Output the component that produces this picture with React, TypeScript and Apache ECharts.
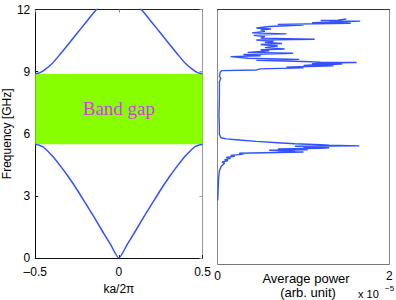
import React, { useEffect, useRef } from "react";
import * as echarts from "echarts";

// Band structure (ka/2π vs frequency in GHz)
const kValues = [-0.5, -0.475, -0.45, -0.4, -0.35, -0.3, -0.25, -0.2, -0.15, -0.1, -0.05, 0, 0.05, 0.1, 0.15, 0.2, 0.25, 0.3, 0.35, 0.4, 0.45, 0.475, 0.5];
const lowerBand = [5.5, 5.45, 5.35, 4.95, 4.45, 3.9, 3.3, 2.65, 2.0, 1.32, 0.66, 0, 0.66, 1.32, 2.0, 2.65, 3.3, 3.9, 4.45, 4.95, 5.35, 5.45, 5.5];
const upperBand = [8.9, 8.94, 9.05, 9.38, 9.85, 10.35, 10.85, 11.35, 11.85, 12.3, 12.6, 12.7, 12.6, 12.3, 11.85, 11.35, 10.85, 10.35, 9.85, 9.38, 9.05, 8.94, 8.9];
const gapBottom = 5.5;
const gapTop = 8.9;

// Average power spectrum (power in units of 1e-5 vs frequency in GHz)
const powerFreq = [3.0, 3.5, 4.0, 4.4, 4.6, 4.75, 4.8, 4.88, 4.92, 4.98, 5.03, 5.08, 5.12, 5.18, 5.22, 5.28, 5.31, 5.33, 5.36, 5.38, 5.41, 5.43, 5.46, 5.48, 5.5, 5.52, 5.55, 5.57, 5.6, 5.62, 5.67, 5.72, 5.78, 5.85, 5.9, 5.95, 6.1, 6.6, 7.0, 7.5, 8.0, 8.6, 8.75, 8.85, 9.05, 9.12, 9.15, 9.2, 9.25, 9.28, 9.3, 9.34, 9.36, 9.38, 9.43, 9.45, 9.47, 9.5, 9.52, 9.55, 9.6, 9.65, 9.7, 9.78, 9.82, 9.88, 9.94, 9.98, 10.05, 10.1, 10.14, 10.2, 10.28, 10.35, 10.4, 10.45, 10.5, 10.56, 10.6, 10.65, 10.72, 10.78, 10.85, 10.9, 10.97, 11.04, 11.08, 11.13, 11.2, 11.27, 11.3, 11.35, 11.38, 11.4, 11.45, 11.48, 11.5, 11.55];
const powerValue = [0, 0.005, 0.01, 0.02, 0.04, 0.08, 0.05, 0.12, 0.08, 0.15, 0.1, 0.2, 0.15, 0.3, 0.25, 1.0, 0.7, 0.9, 0.6, 1.05, 0.8, 0.7, 1.2, 1.3, 1.0, 1.1, 0.9, 1.65, 1.3, 1.2, 0.9, 0.7, 0.45, 0.25, 0.1, 0.04, 0.02, 0.018, 0.015, 0.018, 0.02, 0.02, 0.035, 0.02, 0.03, 0.05, 0.45, 0.5, 1.0, 0.8, 0.95, 1.35, 1.0, 1.1, 1.45, 1.1, 1.2, 1.62, 1.2, 1.0, 0.45, 0.95, 0.35, 0.15, 0.5, 0.3, 0.88, 0.35, 0.6, 0.5, 0.78, 0.55, 0.7, 0.5, 0.75, 0.55, 0.65, 0.45, 1.13, 0.5, 0.55, 0.42, 0.8, 0.4, 0.55, 0.5, 0.62, 0.45, 0.6, 1.0, 0.7, 1.55, 1.1, 1.3, 1.66, 1.2, 1.4, 1.5];

const freqTicks = { min: 0, max: 12, interval: 3 };

const FONT = "Liberation Sans, Arial, Helvetica, sans-serif";
const BLUE = "#3352FF";

export default function App() {
  const ref = useRef<HTMLDivElement>(null);

  useEffect(() => {
    document.body.style.margin = "0";
    if (!ref.current) return;
    const chart = echarts.init(ref.current, undefined, { renderer: "svg" });
    const gridL = { left: 32, top: 9.5, width: 170.5, height: 254.5 };
    const gridR = { left: 217.7, top: 9.5, width: 171.6, height: 254.5 };
    const tickLabel = { fontSize: 12, color: "#000", fontFamily: FONT };

    chart.setOption({
      animation: false,
      backgroundColor: "#fff",
      grid: [
        { ...gridL, show: false },
        { ...gridR, show: false },
      ],
      xAxis: [
        {
          gridIndex: 0, type: "value", min: -0.5, max: 0.5, interval: 0.5,
          axisLine: { lineStyle: { color: "#111", width: 1 } },
          axisTick: { inside: true, length: 3, lineStyle: { color: "#111" } },
          axisLabel: { ...tickLabel, margin: 8, formatter: (v: number) => (v < 0 ? "\u2013" + Math.abs(v) : String(v)) },
          splitLine: { show: false },
          name: "ka/2\u03c0", nameLocation: "middle", nameGap: 24,
          nameTextStyle: { fontSize: 12, color: "#000", fontFamily: FONT },
        },
        {
          gridIndex: 0, type: "value", position: "top", min: -0.5, max: 0.5, interval: 0.5,
          axisLine: { show: true, onZero: false, lineStyle: { color: "#222" } },
          axisTick: { inside: true, length: 3, lineStyle: { color: "#888" } },
          axisLabel: { show: false }, splitLine: { show: false },
        },
        {
          gridIndex: 1, type: "value", min: 0, max: 2, interval: 2,
          axisLine: { lineStyle: { color: "#777", width: 1 } },
          axisTick: { show: false },
          axisLabel: { ...tickLabel, margin: 6 },
          splitLine: { show: false },
        },
        {
          gridIndex: 1, type: "value", position: "top", min: 0, max: 2, interval: 2,
          axisLine: { show: true, onZero: false, lineStyle: { color: "#333" } },
          axisTick: { show: false }, axisLabel: { show: false }, splitLine: { show: false },
        },
      ],
      yAxis: [
        {
          gridIndex: 0, type: "value", ...freqTicks,
          axisLine: { show: true, onZero: false, lineStyle: { color: "#111" } },
          axisTick: { show: true, inside: true, length: 3, lineStyle: { color: "#111" } },
          axisLabel: { ...tickLabel, margin: 5 },
          splitLine: { show: false },
          name: "Frequency [GHz]", nameLocation: "middle", nameGap: 22,
          nameTextStyle: { fontSize: 12, color: "#000", fontFamily: FONT },
        },
        {
          gridIndex: 0, type: "value", position: "right", ...freqTicks,
          axisLine: { show: true, onZero: false, lineStyle: { color: "#999" } },
          axisTick: { show: true, inside: true, length: 3, lineStyle: { color: "#999" } },
          axisLabel: { show: false }, splitLine: { show: false },
        },
        {
          gridIndex: 1, type: "value", ...freqTicks,
          axisLine: { show: true, onZero: false, lineStyle: { color: "#888" } },
          axisTick: { show: false }, axisLabel: { show: false }, splitLine: { show: false },
        },
        {
          gridIndex: 1, type: "value", position: "right", ...freqTicks,
          axisLine: { show: true, onZero: false, lineStyle: { color: "#888" } },
          axisTick: { show: false }, axisLabel: { show: false }, splitLine: { show: false },
        },
      ],
      series: [
        {
          type: "line", xAxisIndex: 0, yAxisIndex: 0, showSymbol: false, smooth: 0.2,
          data: kValues.map((k, i) => [k, lowerBand[i]]),
          lineStyle: { color: BLUE, width: 1.5 },
          z: 3,
          markArea: {
            silent: true,
            itemStyle: { color: "#88FF00", opacity: 1 },
            label: {
              show: true, position: "inside", formatter: "Band gap",
              fontFamily: "Liberation Serif, Times New Roman, serif", fontSize: 19, color: "#C846E0",
            },
            data: [[{ coord: [-0.5, gapBottom] }, { coord: [0.5, gapTop] }]],
          },
        },
        {
          type: "line", xAxisIndex: 0, yAxisIndex: 0, showSymbol: false, smooth: 0.2,
          data: kValues.map((k, i) => [k, upperBand[i]]),
          lineStyle: { color: BLUE, width: 1.5 },
          z: 3,
        },
        {
          type: "line", xAxisIndex: 2, yAxisIndex: 2, showSymbol: false,
          data: powerFreq.map((f, i) => [powerValue[i], f]),
          lineStyle: { color: BLUE, width: 1.4 },
        },
      ],
      graphic: [
        { type: "text", x: 306, y: 278, style: { text: "Average power", fontSize: 13, fontFamily: FONT, fill: "#000", align: "center", verticalAlign: "middle" } },
        { type: "text", x: 308, y: 292, style: { text: "(arb. unit)", fontSize: 13, fontFamily: FONT, fill: "#000", align: "center", verticalAlign: "middle" } },
        { type: "text", x: 358, y: 294, style: { text: "x 10", fontSize: 11, fontFamily: FONT, fill: "#000", align: "left", verticalAlign: "middle" } },
        { type: "text", x: 385, y: 288, style: { text: "\u22125", fontSize: 8, fontFamily: FONT, fill: "#000", align: "left", verticalAlign: "middle" } },
      ],
    });
    return () => chart.dispose();
  }, []);

  return <div ref={ref} style={{ width: 396, height: 300 }} />;
}
